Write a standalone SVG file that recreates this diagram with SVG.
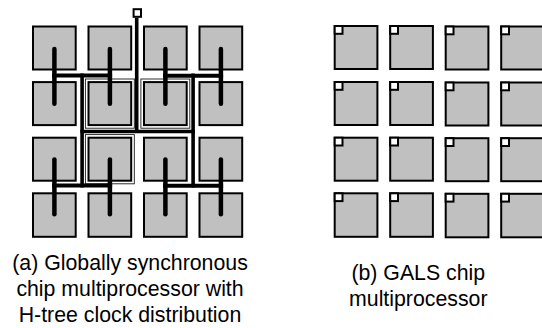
<svg xmlns="http://www.w3.org/2000/svg" width="542" height="328" viewBox="0 0 542 328">
<style>
.pe{fill:#c0c0c0;stroke:#000;stroke-width:2}
.halo{fill:none;stroke:#1a1a1a;stroke-width:0.9}
.clk{fill:#fff;stroke:#000;stroke-width:2}
.leaf{stroke:#000;stroke-width:4.5;stroke-linecap:round;fill:none}
.bar{stroke:#000;stroke-width:4;stroke-linecap:butt;fill:none}
.trunk{stroke:#000;stroke-width:3.6;stroke-linecap:butt;fill:none}
.lbl{font-family:"Liberation Sans",Arial,sans-serif;font-size:21.3px;fill:#000;text-anchor:middle}
</style>
<rect width="542" height="328" fill="#fff"/>
<g id="sync-chip">
<g id="a-r1c1"><rect class="pe" x="33" y="26.5" width="42.7" height="43"/></g>
<g id="a-r1c2"><rect class="pe" x="88.5" y="26.5" width="42.7" height="43"/></g>
<g id="a-r1c3"><rect class="pe" x="144" y="26.5" width="42.7" height="43"/></g>
<g id="a-r1c4"><rect class="pe" x="199.5" y="26.5" width="42.7" height="43"/></g>
<g id="a-r2c1"><rect class="pe" x="33" y="82.1" width="42.7" height="43"/></g>
<g id="a-r2c2"><rect class="halo" x="85.4" y="79" width="48.9" height="49.2"/><rect class="pe" x="88.5" y="82.1" width="42.7" height="43"/></g>
<g id="a-r2c3"><rect class="halo" x="140.9" y="79" width="48.9" height="49.2"/><rect class="pe" x="144" y="82.1" width="42.7" height="43"/></g>
<g id="a-r2c4"><rect class="pe" x="199.5" y="82.1" width="42.7" height="43"/></g>
<g id="a-r3c1"><rect class="pe" x="33" y="137.7" width="42.7" height="43"/></g>
<g id="a-r3c2"><rect class="halo" x="85.4" y="134.6" width="48.9" height="49.2"/><rect class="pe" x="88.5" y="137.7" width="42.7" height="43"/></g>
<g id="a-r3c3"><rect class="pe" x="144" y="137.7" width="42.7" height="43"/></g>
<g id="a-r3c4"><rect class="pe" x="199.5" y="137.7" width="42.7" height="43"/></g>
<g id="a-r4c1"><rect class="pe" x="33" y="193.3" width="42.7" height="43.5"/></g>
<g id="a-r4c2"><rect class="pe" x="88.5" y="193.3" width="42.7" height="43.5"/></g>
<g id="a-r4c3"><rect class="pe" x="144" y="193.3" width="42.7" height="43.5"/></g>
<g id="a-r4c4"><rect class="pe" x="199.5" y="193.3" width="42.7" height="43.5"/></g>
<g id="clock-source"><rect class="clk" x="133.6" y="9.2" width="7.4" height="7.6"/></g>
</g>
<g id="connectors">
<path class="trunk" d="M136.7 17.8V131.5"/>
<path class="trunk" d="M80.3 131.5H194.9"/>
<path class="trunk" d="M82.1 73.5V187.5"/>
<path class="trunk" d="M193.1 73.5V187.5"/>
<path class="bar" d="M52.1 75.5H112.1"/>
<path class="bar" d="M163.1 75.8H223.1"/>
<path class="bar" d="M52.1 185.5H112.1"/>
<path class="bar" d="M163.1 185.8H223.1"/>
<path class="leaf" d="M54.4 49V103.8"/>
<path class="leaf" d="M109.9 49V103.8"/>
<path class="leaf" d="M165.4 49V103.8"/>
<path class="leaf" d="M220.9 49V103.8"/>
<path class="leaf" d="M54.4 159.5V214.3"/>
<path class="leaf" d="M109.9 159.5V214.3"/>
<path class="leaf" d="M165.4 159.5V214.3"/>
<path class="leaf" d="M220.9 159.5V214.3"/>
</g>
<g id="gals-chip">
<g id="b-r1c1"><rect class="pe" x="334.7" y="26" width="42.7" height="43"/><rect class="clk" x="334.7" y="26" width="7.8" height="7.8"/></g>
<g id="b-r1c2"><rect class="pe" x="390.2" y="26" width="42.7" height="43"/><rect class="clk" x="390.2" y="26" width="7.8" height="7.8"/></g>
<g id="b-r1c3"><rect class="pe" x="445.7" y="26.5" width="42.7" height="43"/><rect class="clk" x="445.7" y="26.5" width="7.8" height="7.8"/></g>
<g id="b-r1c4"><rect class="pe" x="501.2" y="26.5" width="42.7" height="43"/><rect class="clk" x="501.2" y="26.5" width="7.8" height="7.8"/></g>
<g id="b-r2c1"><rect class="pe" x="334.7" y="82" width="42.7" height="43"/><rect class="clk" x="334.7" y="82" width="7.8" height="7.8"/></g>
<g id="b-r2c2"><rect class="pe" x="390.2" y="82" width="42.7" height="43"/><rect class="clk" x="390.2" y="82" width="7.8" height="7.8"/></g>
<g id="b-r2c3"><rect class="pe" x="445.7" y="82.5" width="42.7" height="43"/><rect class="clk" x="445.7" y="82.5" width="7.8" height="7.8"/></g>
<g id="b-r2c4"><rect class="pe" x="501.2" y="82.5" width="42.7" height="43"/><rect class="clk" x="501.2" y="82.5" width="7.8" height="7.8"/></g>
<g id="b-r3c1"><rect class="pe" x="334.7" y="137.7" width="42.7" height="43"/><rect class="clk" x="334.7" y="137.7" width="7.8" height="7.8"/></g>
<g id="b-r3c2"><rect class="pe" x="390.2" y="137.7" width="42.7" height="43"/><rect class="clk" x="390.2" y="137.7" width="7.8" height="7.8"/></g>
<g id="b-r3c3"><rect class="pe" x="445.7" y="138.2" width="42.7" height="43"/><rect class="clk" x="445.7" y="138.2" width="7.8" height="7.8"/></g>
<g id="b-r3c4"><rect class="pe" x="501.2" y="138.2" width="42.7" height="43"/><rect class="clk" x="501.2" y="138.2" width="7.8" height="7.8"/></g>
<g id="b-r4c1"><rect class="pe" x="334.7" y="193.3" width="42.7" height="43.5"/><rect class="clk" x="334.7" y="193.3" width="7.8" height="7.8"/></g>
<g id="b-r4c2"><rect class="pe" x="390.2" y="193.3" width="42.7" height="43.5"/><rect class="clk" x="390.2" y="193.3" width="7.8" height="7.8"/></g>
<g id="b-r4c3"><rect class="pe" x="445.7" y="193.8" width="42.7" height="43.5"/><rect class="clk" x="445.7" y="193.8" width="7.8" height="7.8"/></g>
<g id="b-r4c4"><rect class="pe" x="501.2" y="193.8" width="42.7" height="43.5"/><rect class="clk" x="501.2" y="193.8" width="7.8" height="7.8"/></g>
</g>
<g id="captions">
<text class="lbl" x="130" y="270">(a) Globally synchronous</text>
<text class="lbl" x="130" y="296">chip multiprocessor with</text>
<text class="lbl" x="130" y="322">H-tree clock distribution</text>
<text class="lbl" x="418.3" y="280">(b) GALS chip</text>
<text class="lbl" x="418.3" y="306">multiprocessor</text>
</g>
</svg>
